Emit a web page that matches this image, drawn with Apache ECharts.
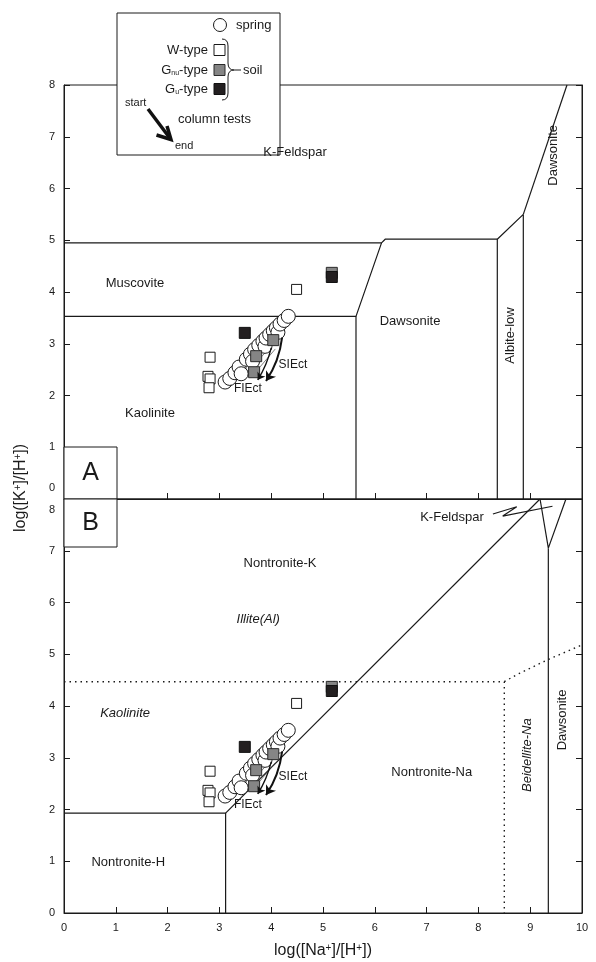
<!DOCTYPE html>
<html><head><meta charset="utf-8">
<script src="https://cdn.jsdelivr.net/npm/echarts@6/dist/echarts.min.js"></script>
<style>html,body{margin:0;padding:0;background:#fff}#c{width:596px;height:962px}</style>
</head><body><div id="c"></div>
<script>
// ---------- data ----------
const xRange = [0, 10];
const yRange = [0, 8];
// spring waters (circles)
const springX = [3.11, 3.20, 3.30, 3.38, 3.42, 3.52, 3.60, 3.64, 3.68, 3.76, 3.84, 3.88, 3.90, 3.97, 4.04, 4.10, 4.13, 4.17, 4.25, 4.33];
const springY = [2.26, 2.33, 2.44, 2.55, 2.42, 2.70, 2.80, 2.66, 2.89, 2.97, 3.05, 2.95, 3.11, 3.18, 3.25, 3.31, 3.22, 3.38, 3.45, 3.53];
// soil W-type (open squares)
const wTypeX = [2.78, 2.82, 2.80, 2.82, 4.49];
const wTypeY = [2.37, 2.32, 2.15, 2.74, 4.05];
// soil Gnu-type (grey squares)
const gnuX = [3.67, 3.71, 4.04, 5.17];
const gnuY = [2.45, 2.76, 3.07, 4.37];
// soil Gu-type (black squares)
const guX = [3.49, 5.17];
const guY = [3.21, 4.29];
// column-test trajectories (start -> end)
const slectArrow = [[4.21, 3.12], [3.90, 2.28]];
const flectArrow = [[4.00, 2.92], [3.74, 2.30]];
const hatchPaths = [
  [[3.40, 2.45], [3.95, 3.05], [4.22, 3.30]],
  [[3.50, 2.40], [4.02, 2.98], [4.25, 3.20]],
  [[3.62, 2.36], [4.08, 2.90]]
];
// phase boundaries, panel A
const boundsA = [
  [[0, 4.95], [6.13, 4.95], [6.20, 5.02], [8.365, 5.02]],
  [[0, 3.53], [5.637, 3.53], [6.13, 4.95]],
  [[5.637, 3.53], [5.637, 0]],
  [[8.365, 0], [8.365, 5.02], [8.867, 5.50], [8.867, 0]],
  [[8.867, 5.50], [9.71, 8.0]]
];
// phase boundaries, panel B
const boundsB = [
  [[0, 1.93], [3.12, 1.93], [3.12, 0]],
  [[3.12, 1.93], [9.19, 8.0]],
  [[9.19, 8.0], [9.35, 7.05], [9.69, 8.0]],
  [[9.35, 7.05], [9.35, 0]],
  [[8.28, 7.71], [8.74, 7.85], [8.47, 7.67], [9.43, 7.86]]
];
const dottedB = [
  [[0, 4.47], [8.5, 4.47], [8.5, 0]],
  [[8.5, 4.47], [8.75, 4.61], [9.35, 4.90], [10, 5.18]]
];

// ---------- chart ----------
const FONT = '"Liberation Sans", Arial, sans-serif';
const INK = '#1a1a1a';
const chart = echarts.init(document.getElementById('c'), null, {renderer: 'canvas'});

function zip(xs, ys) { return xs.map((x, i) => [x, ys[i]]); }

function panelSeries(p) {
  const ax = {xAxisIndex: p, yAxisIndex: p * 2};
  const s = [];
  (p === 0 ? boundsA : boundsB).forEach(b => s.push(Object.assign({
    type: 'line', data: b, symbol: 'none', silent: true, z: 2,
    lineStyle: {color: INK, width: 1.2}
  }, ax)));
  if (p === 1) dottedB.forEach(b => s.push(Object.assign({
    type: 'line', data: b, symbol: 'none', silent: true, z: 2,
    lineStyle: {color: INK, width: 1.4, type: [1.5, 4]}
  }, ax)));
  hatchPaths.forEach(h => s.push(Object.assign({
    type: 'line', data: h, symbol: 'none', silent: true, z: 3,
    lineStyle: {color: '#444', width: 0.7}
  }, ax)));
  s.push(Object.assign({
    type: 'scatter', data: zip(springX, springY), symbol: 'circle', symbolSize: 14, z: 4,
    itemStyle: {color: '#fff', borderColor: INK, borderWidth: 1, opacity: 1}
  }, ax));
  s.push(Object.assign({
    type: 'scatter', data: zip(wTypeX, wTypeY), symbol: 'rect', symbolSize: 10, z: 5,
    itemStyle: {color: '#fff', borderColor: INK, borderWidth: 1, opacity: 1}
  }, ax));
  s.push(Object.assign({
    type: 'scatter', data: zip(gnuX, gnuY), symbol: 'rect', symbolSize: 11, z: 5,
    itemStyle: {color: '#858585', borderColor: '#2a2a2a', borderWidth: 1, opacity: 1}
  }, ax));
  s.push(Object.assign({
    type: 'scatter', data: zip(guX, guY), symbol: 'rect', symbolSize: 11, z: 6,
    itemStyle: {color: '#231f20', borderColor: '#111', borderWidth: 1, opacity: 1}
  }, ax));
  s.push(Object.assign({
    type: 'lines', coordinateSystem: 'cartesian2d', z: 7, silent: true,
    symbol: ['none', 'arrow'], symbolSize: 9,
    lineStyle: {color: '#111', width: 2, opacity: 1, curveness: 0.12},
    data: [{coords: slectArrow}]
  }, ax));
  s.push(Object.assign({
    type: 'lines', coordinateSystem: 'cartesian2d', z: 7, silent: true,
    symbol: ['none', 'arrow'], symbolSize: 7,
    lineStyle: {color: '#111', width: 1.4, opacity: 1, curveness: 0.08},
    data: [{coords: flectArrow}]
  }, ax));
  return s;
}

function labelSeries(p, items) {
  return {
    type: 'scatter', xAxisIndex: p, yAxisIndex: p * 2, symbolSize: 0, z: 8, silent: true,
    itemStyle: {opacity: 1},
    data: items.map(it => ({
      value: [it.x, it.y],
      label: {
        show: true, position: 'inside', formatter: it.t, rotate: it.r || 0,
        fontStyle: it.i ? 'italic' : 'normal', fontSize: it.fs || 13,
        color: INK, fontFamily: FONT
      }
    }))
  };
}

const labelsA = labelSeries(0, [
  {t: 'K-Feldspar', x: 4.46, y: 6.70},
  {t: 'Muscovite', x: 1.37, y: 4.17},
  {t: 'Dawsonite', x: 6.68, y: 3.43},
  {t: 'Kaolinite', x: 1.66, y: 1.65},
  {t: 'Albite-low', x: 8.61, y: 3.16, r: 90},
  {t: 'Dawsonite', x: 9.44, y: 6.64, r: 90},
  {t: 'FIEct', x: 3.55, y: 2.13, fs: 12},
  {t: 'SIEct', x: 4.42, y: 2.60, fs: 12}
]);
const labelsB = labelSeries(1, [
  {t: 'Nontronite-K', x: 4.17, y: 6.76},
  {t: 'Illite(Al)', x: 3.75, y: 5.68, i: true},
  {t: 'Kaolinite', x: 1.18, y: 3.86, i: true},
  {t: 'Nontronite-Na', x: 7.10, y: 2.72},
  {t: 'Nontronite-H', x: 1.24, y: 0.98},
  {t: 'Beidellite-Na', x: 8.94, y: 3.05, r: 90, i: true},
  {t: 'Dawsonite', x: 9.63, y: 3.73, r: 90},
  {t: 'K-Feldspar', x: 7.49, y: 7.65},
  {t: 'FIEct', x: 3.55, y: 2.10, fs: 12},
  {t: 'SIEct', x: 4.42, y: 2.63, fs: 12}
]);

const axisCommon = {
  axisLine: {show: true, onZero: false, lineStyle: {color: INK, width: 1}},
  axisTick: {show: true, inside: true, length: 6, lineStyle: {color: INK, width: 1}},
  splitLine: {show: false}
};
const labelCommon = {color: INK, fontSize: 11, fontFamily: FONT};

function xAxis(p) {
  return Object.assign({
    type: 'value', gridIndex: p, min: xRange[0], max: xRange[1], interval: 1, position: 'bottom',
    axisLabel: p === 1 ? Object.assign({show: true, margin: 9}, labelCommon) : {show: false}
  }, axisCommon, p === 1 ? {
    name: 'log([Na{s|+}]/[H{s|+}])', nameLocation: 'middle', nameGap: 30,
    nameTextStyle: {color: INK, fontSize: 16, fontFamily: FONT,
      rich: {s: {fontSize: 10, verticalAlign: 'top', padding: [0, 0, 6, 0], color: INK, fontFamily: FONT}}}
  } : {});
}
function yAxis(p, side) {
  const left = side === 'left';
  return Object.assign({}, axisCommon, {
    type: 'value', gridIndex: p, min: yRange[0], max: yRange[1], interval: 1, position: side,
    axisLabel: left ? Object.assign({
      show: true, margin: 9,
      formatter: v => (p === 0 && v === 0) ? '{lo|0}' : (p === 1 && v === 8) ? '{hi|8}' : String(v),
      rich: {
        lo: {fontSize: 11, color: INK, fontFamily: FONT, padding: [0, 0, 22, 0]},
        hi: {fontSize: 11, color: INK, fontFamily: FONT, padding: [22, 0, 0, 0]}
      }
    }, labelCommon) : {show: false}
  });
}

const g = [];
// panel boxes "A" / "B"
g.push({type: 'rect', z: 50, shape: {x: 64, y: 447, width: 53, height: 52}, style: {fill: '#fff', stroke: INK, lineWidth: 1}});
g.push({type: 'text', z: 51, x: 90.5, y: 473, style: {text: 'A', fontSize: 25, fontFamily: FONT, fill: INK, align: 'center', verticalAlign: 'middle'}});
g.push({type: 'rect', z: 50, shape: {x: 64, y: 499, width: 53, height: 48}, style: {fill: '#fff', stroke: INK, lineWidth: 1}});
g.push({type: 'text', z: 51, x: 90.5, y: 523, style: {text: 'B', fontSize: 25, fontFamily: FONT, fill: INK, align: 'center', verticalAlign: 'middle'}});
// y axis title
g.push({type: 'text', z: 51, x: 21, y: 488, rotation: Math.PI / 2,
  style: {text: 'log([K{s|+}]/[H{s|+}])', fontSize: 16, fontFamily: FONT, fill: INK, align: 'center', verticalAlign: 'middle',
    rich: {s: {fontSize: 10, verticalAlign: 'top', padding: [0, 0, 6, 0], fill: INK, fontFamily: FONT}}}});
// legend box
const L = [];
const ln = {stroke: INK, lineWidth: 1, fill: null};
L.push({type: 'rect', shape: {x: 117, y: 13, width: 163, height: 142}, style: {fill: '#fff', stroke: INK, lineWidth: 1}});
L.push({type: 'circle', shape: {cx: 220, cy: 25, r: 6.5}, style: {fill: '#fff', stroke: INK, lineWidth: 1}});
L.push({type: 'text', x: 236, y: 25, style: {text: 'spring', fontSize: 13, fontFamily: FONT, fill: INK, align: 'left', verticalAlign: 'middle'}});
L.push({type: 'text', x: 208, y: 50, style: {text: 'W-type', fontSize: 13, fontFamily: FONT, fill: INK, align: 'right', verticalAlign: 'middle'}});
L.push({type: 'rect', shape: {x: 214, y: 44.5, width: 11, height: 11}, style: {fill: '#fff', stroke: INK, lineWidth: 1}});
L.push({type: 'text', x: 208, y: 70, style: {text: '{a|G}{b|nu}{a|-type}', fontSize: 13, fontFamily: FONT, fill: INK, align: 'right', verticalAlign: 'middle',
  rich: {a: {fontSize: 13, fontFamily: FONT, fill: INK}, b: {fontSize: 7, fontFamily: FONT, fill: INK, verticalAlign: 'bottom'}}}});
L.push({type: 'rect', shape: {x: 214, y: 64.5, width: 11, height: 11}, style: {fill: '#858585', stroke: '#2a2a2a', lineWidth: 1}});
L.push({type: 'text', x: 208, y: 89, style: {text: '{a|G}{b|u}{a|-type}', fontSize: 13, fontFamily: FONT, fill: INK, align: 'right', verticalAlign: 'middle',
  rich: {a: {fontSize: 13, fontFamily: FONT, fill: INK}, b: {fontSize: 7, fontFamily: FONT, fill: INK, verticalAlign: 'bottom'}}}});
L.push({type: 'rect', shape: {x: 214, y: 83.5, width: 11, height: 11}, style: {fill: '#231f20', stroke: '#111', lineWidth: 1}});
// brace
L.push({type: 'bezierCurve', shape: {x1: 222, y1: 39, cpx1: 228, cpy1: 39, x2: 228, y2: 46}, style: ln});
L.push({type: 'line', shape: {x1: 228, y1: 46, x2: 228, y2: 63}, style: ln});
L.push({type: 'bezierCurve', shape: {x1: 228, y1: 63, cpx1: 228, cpy1: 70, x2: 234, y2: 70}, style: ln});
L.push({type: 'bezierCurve', shape: {x1: 234, y1: 70, cpx1: 228, cpy1: 70, x2: 228, y2: 77}, style: ln});
L.push({type: 'line', shape: {x1: 228, y1: 77, x2: 228, y2: 93}, style: ln});
L.push({type: 'bezierCurve', shape: {x1: 228, y1: 93, cpx1: 228, cpy1: 100, x2: 222, y2: 100}, style: ln});
L.push({type: 'line', shape: {x1: 234, y1: 70, x2: 241, y2: 70}, style: ln});
L.push({type: 'text', x: 243, y: 70, style: {text: 'soil', fontSize: 13, fontFamily: FONT, fill: INK, align: 'left', verticalAlign: 'middle'}});
L.push({type: 'text', x: 125, y: 103, style: {text: 'start', fontSize: 11, fontFamily: FONT, fill: INK, align: 'left', verticalAlign: 'middle'}});
L.push({type: 'line', shape: {x1: 148, y1: 109, x2: 169, y2: 137}, style: {stroke: '#111', lineWidth: 3.5}});
L.push({type: 'polyline', shape: {points: [[156.5, 135], [171, 139.5], [167, 126]]}, style: {stroke: '#111', lineWidth: 3.5, fill: null, lineJoin: 'miter'}});
L.push({type: 'text', x: 178, y: 119, style: {text: 'column tests', fontSize: 13, fontFamily: FONT, fill: INK, align: 'left', verticalAlign: 'middle'}});
L.push({type: 'text', x: 175, y: 146, style: {text: 'end', fontSize: 11, fontFamily: FONT, fill: INK, align: 'left', verticalAlign: 'middle'}});
g.push({type: 'group', z: 60, children: L});

chart.setOption({
  backgroundColor: '#fff',
  animation: false,
  textStyle: {fontFamily: FONT},
  grid: [
    {left: 64, top: 85, width: 518, height: 414, show: true, borderColor: INK, borderWidth: 1, backgroundColor: 'transparent'},
    {left: 64, top: 499, width: 518, height: 414, show: true, borderColor: INK, borderWidth: 1, backgroundColor: 'transparent'}
  ],
  xAxis: [xAxis(0), xAxis(1)],
  yAxis: [yAxis(0, 'left'), yAxis(0, 'right'), yAxis(1, 'left'), yAxis(1, 'right')],
  series: [].concat(panelSeries(0), panelSeries(1), [labelsA, labelsB]),
  graphic: g
});
</script>
</body></html>
